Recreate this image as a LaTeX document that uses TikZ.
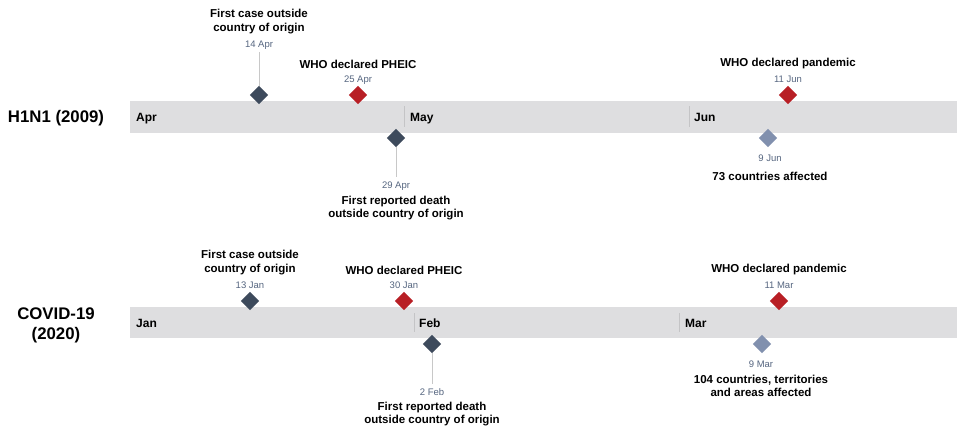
\documentclass[tikz,border=0pt]{standalone}
\usepackage{fontspec}
\setmainfont{Liberation Sans}
\usetikzlibrary{shapes.geometric}
\definecolor{darkd}{HTML}{3D4A5C}
\definecolor{redd}{HTML}{B81F25}
\definecolor{lightd}{HTML}{8190AE}
\definecolor{datec}{HTML}{55657F}
\definecolor{barc}{HTML}{DEDEE0}
\definecolor{sepc}{HTML}{C4C4C6}
\definecolor{linec}{HTML}{C8C8C8}
\tikzset{
  evt/.style={diamond,inner sep=0pt,minimum width=18.5pt,minimum height=18.5pt},
  ev/.style={evt,fill=darkd},
  evr/.style={evt,fill=redd},
  evl/.style={evt,fill=lightd},
  lbl/.style={align=center,inner sep=0pt,font=\fontsize{11.5}{13.4}\selectfont\bfseries},
  dt/.style={inner sep=0pt,text=datec,text height=7pt,text depth=0pt,font=\fontsize{9.5}{11}\selectfont},
  mon/.style={anchor=base west,inner sep=0pt,font=\fontsize{12}{14}\selectfont\bfseries},
  ttl/.style={align=center,inner sep=0pt,font=\fontsize{16.8}{20}\selectfont\bfseries},
  conn/.style={draw=linec,line width=0.9pt},
  sep/.style={draw=sepc,line width=0.8pt}
}
\begin{document}
\begin{tikzpicture}[x=1pt,y=-1pt]
\useasboundingbox (0,0) rectangle (957,429);
% ---------- H1N1 ----------
\fill[barc] (130,101) rectangle (957,132.5);
\node[ttl] (t1) at (56,118) {H1N1 (2009)};
\node[mon] (apr) at (136,121.5) {Apr};
\draw[sep] (404,106) -- (404,127);
\node[mon] (may) at (410,121.5) {May};
\draw[sep] (689,106) -- (689,127);
\node[mon] (jun) at (694,121.5) {Jun};

\node[ev] (a1) at (259,95) {};
\node[lbl] (a1l) at (259,21.5) {First case outside\\country of origin};
\node[dt] (a1d) at (259,43.5) {14 Apr};
\draw[conn] (a1.north) -- ([yshift=-5pt]a1d.south);

\node[evr] (a2) at (358,95) {};
\node[lbl] (a2l) at (358,64) {WHO declared PHEIC};
\node[dt] (a2d) at (358,78.5) {25 Apr};

\node[ev] (a3) at (396,138) {};
\node[dt] (a3d) at (396,184.5) {29 Apr};
\node[lbl] (a3l) at (396,208) {First reported death\\outside country of origin};
\draw[conn] (a3.south) -- ([yshift=4pt]a3d.north);

\node[evr] (a4) at (788,95) {};
\node[lbl] (a4l) at (788,64) {WHO declared pandemic};
\node[dt] (a4d) at (788,78.5) {11 Jun};

\node[evl] (a5) at (768,138) {};
\node[dt] (a5d) at (770,157.5) {9 Jun};
\node[lbl] (a5l) at (770,176) {73 countries affected};

% ---------- COVID-19 ----------
\fill[barc] (130,307) rectangle (957,338);
\node[ttl] (t2) at (56,325.5) {COVID-19\\(2020)};
\node[mon] (jan) at (136,327.5) {Jan};
\draw[sep] (414,313) -- (414,332);
\node[mon] (feb) at (419,327.5) {Feb};
\draw[sep] (679,313) -- (679,332);
\node[mon] (mar) at (685,327.5) {Mar};

\node[ev] (b1) at (250,301) {};
\node[lbl] (b1l) at (250,262.5) {First case outside\\country of origin};
\node[dt] (b1d) at (250,284.5) {13 Jan};

\node[evr] (b2) at (404,301) {};
\node[lbl] (b2l) at (404,270) {WHO declared PHEIC};
\node[dt] (b2d) at (404,284.5) {30 Jan};

\node[ev] (b3) at (432,344) {};
\node[dt] (b3d) at (432,391.5) {2 Feb};
\node[lbl] (b3l) at (432,414) {First reported death\\outside country of origin};
\draw[conn] (b3.south) -- ([yshift=4pt]b3d.north);

\node[evr] (b4) at (779,301) {};
\node[lbl] (b4l) at (779,270) {WHO declared pandemic};
\node[dt] (b4d) at (779,284.5) {11 Mar};

\node[evl] (b5) at (762,344) {};
\node[dt] (b5d) at (761,363.5) {9 Mar};
\node[lbl] (b5l) at (761,386) {104 countries, territories\\and areas affected};
\end{tikzpicture}
\end{document}
